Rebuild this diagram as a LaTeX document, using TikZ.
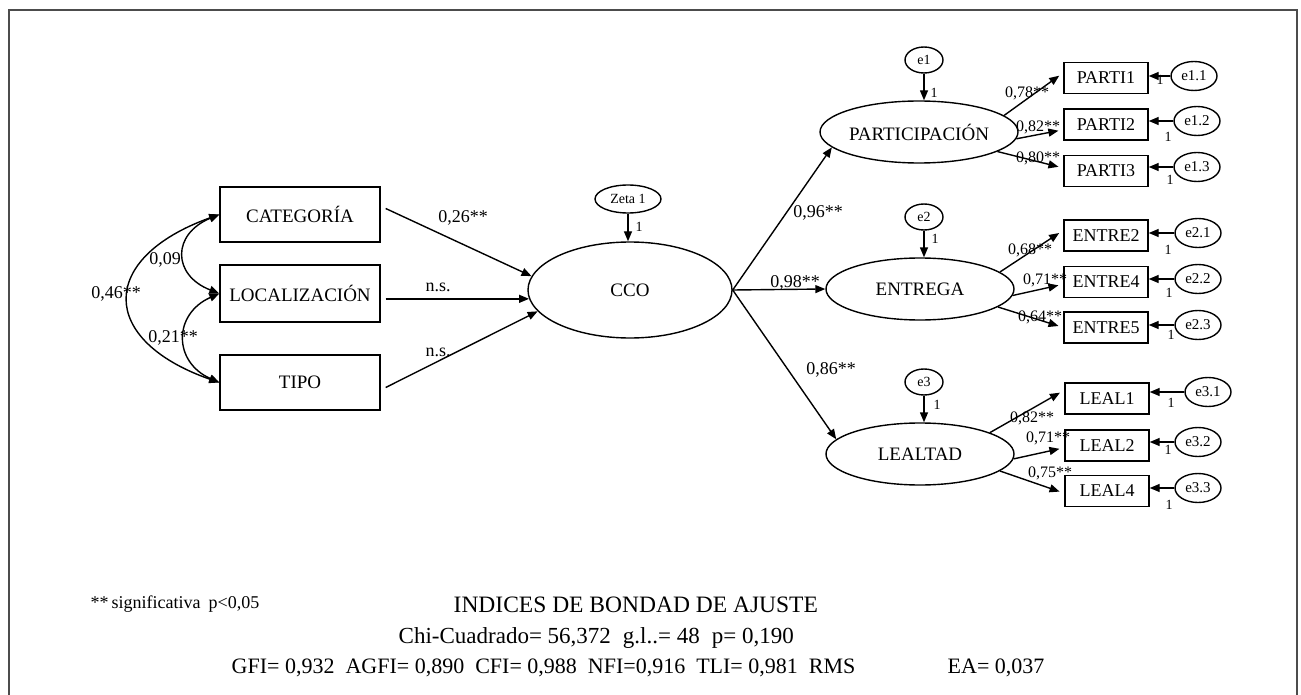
\documentclass[tikz,border=0pt]{standalone}
\usepackage{fontspec}
\setmainfont{Liberation Serif}
\usepackage{graphicx}
\usetikzlibrary{arrows.meta,shapes.geometric,calc}
\begin{document}
\begin{tikzpicture}[x=1pt,y=-1pt,
  line width=1.4pt,
  tip/.style={-{Triangle[length=10pt,width=8pt]}},
  dtip/.style={{Triangle[length=10pt,width=8pt]}-{Triangle[length=10pt,width=8pt]}},
  obs/.style={draw,rectangle,inner sep=0pt,minimum width=160pt,font=\fontsize{19}{19}\selectfont},
  ind/.style={draw,rectangle,inner sep=0pt,minimum width=84pt,minimum height=31pt,font=\fontsize{18}{18}\selectfont},
  lat/.style={draw,ellipse,inner sep=0pt,minimum width=188pt,minimum height=62pt,font=\fontsize{19}{19}\selectfont},
  err/.style={draw,ellipse,inner sep=0pt,minimum width=38pt,minimum height=26pt,font=\fontsize{14}{14}\selectfont},
  erb/.style={draw,ellipse,inner sep=0pt,minimum width=46pt,minimum height=29pt,font=\fontsize{15}{15}\selectfont},
  lbl/.style={inner sep=0pt,font=\fontsize{18}{18}\selectfont},
  sml/.style={inner sep=0pt,font=\fontsize{16}{16}\selectfont},
  one/.style={inner sep=0pt,font=\fontsize{14}{14}\selectfont},
  txt/.style={inner sep=0pt,anchor=west,font=\fontsize{22}{22}\selectfont},
]
\useasboundingbox (0,0) rectangle (1301,695);
\draw[gray!60!black,line width=1.6pt] (9,700) -- (9,10) -- (1297,10) -- (1297,700);

% exogenous boxes
\node[obs,minimum height=55pt] (cat) at (300,214.5) {CATEGORÍA};
\node[obs,minimum height=57pt] (loc) at (300,293.5) {LOCALIZACIÓN};
\node[obs,minimum height=55pt] (tipo) at (300,382.5) {TIPO};

% correlations
\draw[dtip] (cat.west) .. controls (98,258) and (98,340) .. (tipo.west);
\draw[dtip] (cat.west) .. controls (172,234) and (172,275) .. (loc.west);
\draw[dtip] (loc.west) .. controls (173,314) and (173,362) .. (tipo.west);
\node[lbl] (c46) at (116,294) {0,46**};
\node[lbl] (c09) at (165,260) {0,09};
\node[lbl] (c21) at (173,338) {0,21**};

% CCO
\node[lat,minimum width=204pt,minimum height=96pt] (cco) at (630,290) {CCO};
\node[err,minimum width=66pt,minimum height=28pt] (zeta) at (628,199) {Zeta 1};
\draw[tip] (zeta) -- (zeta |- cco.north);
\node[one] (zone) at (639,227) {1};

\draw[tip] ([xshift=5pt,yshift=6pt]cat.east) -- (cco.172);
\draw[tip] ([xshift=5pt]loc.east |- cco.185) -- (cco.185);
\draw[tip] ([xshift=5pt,yshift=-5pt]tipo.east) -- (cco.193);
\node[lbl] (l26) at (463,218) {0,26**};
\node[lbl] (lns1) at (438,287) {n.s.};
\node[lbl] (lns2) at (438,352) {n.s.};

% latent factors
\node[lat] (part) at (919,132) {PARTICIPACIÓN};
\node[lat] (ent) at (920,289) {ENTREGA};
\node[lat] (leal) at (920,454) {LEALTAD};

\draw[tip] (cco.east) -- (part.190);
\draw[tip] (cco.east) -- (ent.west);
\draw[tip] (cco.east) -- (leal.170);
\node[lbl] (l96) at (818,213) {0,96**};
\node[lbl] (l98) at (795,283) {0,98**};
\node[lbl] (l86) at (831,370) {0,86**};

% factor disturbances
\node[err] (e1) at (924,60) {e1};
\node[err] (e2) at (924,217) {e2};
\node[err] (e3) at (924,382) {e3};
\draw[tip] (e1) -- (e1 |- part.north);
\draw[tip] (e2) -- (e2 |- ent.north);
\draw[tip] (e3) -- (e3 |- leal.north);
\node[one] (o1) at (934,93) {1};
\node[one] (o2) at (935,239) {1};
\node[one] (o3) at (937,405) {1};

% indicators
\node[ind] (p1) at (1106,78) {PARTI1};
\node[ind] (p2) at (1106,124.5) {PARTI2};
\node[ind] (p3) at (1106,171) {PARTI3};
\node[ind] (n2) at (1106,235.5) {ENTRE2};
\node[ind] (n4) at (1106,282) {ENTRE4};
\node[ind] (n5) at (1106,327.5) {ENTRE5};
\node[ind] (q1) at (1107,398.5) {LEAL1};
\node[ind] (q2) at (1107,445.5) {LEAL2};
\node[ind] (q4) at (1107,491) {LEAL4};

\draw[tip,shorten >=5pt] (part.11) -- (p1.173);
\draw[tip,shorten >=5pt] (part.-4) -- (p2.187);
\draw[tip,shorten >=5pt] (part.-14) -- (p3.176);
\draw[tip,shorten >=5pt] (ent.12) -- (n2.173);
\draw[tip,shorten >=5pt] (ent.-4) -- (n4.183);
\draw[tip,shorten >=5pt] (ent.-13) -- (n5.west);
\draw[tip,shorten >=5pt] (leal.17) -- (q1.169);
\draw[tip,shorten >=5pt] (leal.-3) -- (q2.183);
\draw[tip,shorten >=5pt] (leal.-12) -- (q4.183);

\node[sml] (s78) at (1027,93) {0,78**};
\node[sml] (s82) at (1038,127) {0,82**};
\node[sml] (s80) at (1038,158) {0,80**};
\node[sml] (s68) at (1030,250) {0,68**};
\node[sml] (s71) at (1045,280) {0,71**};
\node[sml] (s64) at (1040,317) {0,64**};
\node[sml] (s82b) at (1032,418) {0,82**};
\node[sml] (s71b) at (1048,438) {0,71**};
\node[sml] (s75) at (1050,473) {0,75**};

% indicator errors
\node[erb] (e11) at (1194,76) {e1.1};
\node[erb] (e12) at (1197,121) {e1.2};
\node[erb] (e13) at (1197,167) {e1.3};
\node[erb] (e21) at (1198,233) {e2.1};
\node[erb] (e22) at (1198,279) {e2.2};
\node[erb] (e23) at (1198,325) {e2.3};
\node[erb] (e31) at (1208,392) {e3.1};
\node[erb] (e32) at (1198,442) {e3.2};
\node[erb] (e33) at (1198,488) {e3.3};
\foreach \e/\b in {e11/p1,e12/p2,e13/p3,e21/n2,e22/n4,e23/n5,e31/q1,e32/q2,e33/q4}
  \draw[tip] (\e) -- (\e -| \b.east);
\node[one] (u11) at (1160,80) {1};
\node[one] (u12) at (1168,137) {1};
\node[one] (u13) at (1170,180) {1};
\node[one] (u21) at (1168,250) {1};
\node[one] (u22) at (1169,293) {1};
\node[one] (u23) at (1171,335) {1};
\node[one] (u31) at (1171,403) {1};
\node[one] (u32) at (1168,450) {1};
\node[one] (u33) at (1169,505) {1};

% bottom texts
\node[txt,font=\fontsize{18}{18}\selectfont] (sig) at (90,604) {**\,significativa\hspace{8pt}p<0,05};
\node[txt,font=\fontsize{23.5}{23.5}\selectfont] (ind) at (453,605) {INDICES DE BONDAD DE AJUSTE};
\node[txt,font=\fontsize{23}{23}\selectfont] (chi) at (398,638) {Chi-Cuadrado= 56,372\hspace{12pt}g.l..= 48\hspace{12pt}p= 0,190};
\node[txt] (gfi) at (231,668) {GFI= 0,932\ \ AGFI= 0,890\ \ CFI= 0,988\ \ NFI=0,916\ \ TLI= 0,981\ \ RMS};
\node[txt] (ea) at (947,668) {EA= 0,037};
\end{tikzpicture}
\end{document}
